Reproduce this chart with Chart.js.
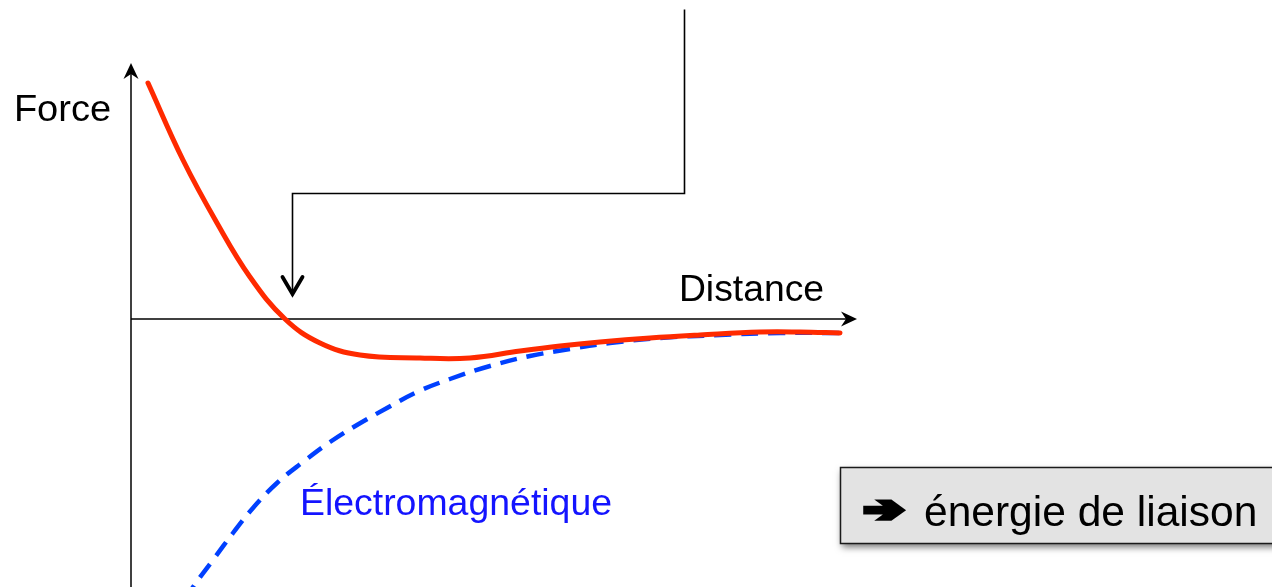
<!DOCTYPE html>
<html lang="fr">
<head>
    <meta charset="UTF-8">
    <title>Force - Distance</title>
    <script src="https://cdn.jsdelivr.net/npm/chart.js@4"></script>
    <style>
        html, body { margin: 0; padding: 0; background: #fff; overflow: hidden; }
        canvas { display: block; }
    </style>
</head>
<body>
    <canvas id="forceChart" width="1272" height="587"></canvas>

    <script>
        // courbe totale (rouge) : distance / force
        const totalDistance = [0.17, 0.52, 0.86, 1.19, 1.54, 1.89, 2.29, 2.89, 3.39, 3.89, 4.29, 4.69, 5.19, 5.69, 6.29, 6.69, 7.09];
        const totalForce    = [2.36, 1.59, 0.96, 0.42, 0.00, -0.24, -0.36, -0.39, -0.39, -0.32, -0.27, -0.23, -0.19, -0.16, -0.13, -0.13, -0.14];

        // composante électromagnétique (tirets bleus)
        const emDistance = [0.54, 0.62, 0.82, 1.02, 1.22, 1.46, 1.72, 1.99, 2.26, 2.56, 2.86, 3.19, 3.59, 3.99, 4.39, 4.79, 5.29, 5.89, 6.49, 7.14];
        const emForce    = [-2.81, -2.68, -2.41, -2.14, -1.89, -1.64, -1.43, -1.23, -1.06, -0.89, -0.73, -0.60, -0.47, -0.37, -0.30, -0.24, -0.19, -0.16, -0.14, -0.14];

        // bornes des axes et flèche de renvoi (unités du graphe)
        const xAxisEnd = 7.26;
        const yAxisEnd = 2.56;
        const pointerPath = [[5.53, 3.10], [5.53, 1.26], [1.61, 1.26], [1.61, 0.24]];

        const labels = {
            force: 'Force',
            distance: 'Distance',
            em: 'Électromagnétique',
            box: 'énergie de liaison',
            boxArrow: '➔'
        };

        const toPoints = (xs, ys) => xs.map((x, i) => ({ x: x, y: ys[i] }));

        // texte étiré pour tenir entre deux bords d'encre
        function fitText(ctx, text, left, right, baseline, font, color, bold) {
            ctx.save();
            ctx.font = font;
            ctx.fillStyle = color;
            ctx.strokeStyle = color;
            ctx.textBaseline = 'alphabetic';
            ctx.textAlign = 'left';
            const extra = bold || 0;
            const m = ctx.measureText(text);
            const ink = m.actualBoundingBoxLeft + m.actualBoundingBoxRight + extra;
            const sx = (right - left) / ink;
            ctx.translate(left + (m.actualBoundingBoxLeft + extra / 2) * sx, baseline);
            ctx.scale(sx, 1);
            ctx.fillText(text, 0, 0);
            if (extra) {
                ctx.lineWidth = extra;
                ctx.lineJoin = 'miter';
                ctx.strokeText(text, 0, 0);
            }
            ctx.restore();
        }

        function arrowHead(ctx, tipX, tipY, dir, len, half, notch) {
            // dir: 'right' ou 'up'
            ctx.beginPath();
            if (dir === 'right') {
                ctx.moveTo(tipX, tipY);
                ctx.lineTo(tipX - len, tipY - half);
                ctx.lineTo(tipX - len + notch, tipY);
                ctx.lineTo(tipX - len, tipY + half);
            } else {
                ctx.moveTo(tipX, tipY);
                ctx.lineTo(tipX - half, tipY + len);
                ctx.lineTo(tipX, tipY + len - notch);
                ctx.lineTo(tipX + half, tipY + len);
            }
            ctx.closePath();
            ctx.fill();
        }

        const axesPlugin = {
            id: 'axesPlugin',
            beforeDatasetsDraw(chart) {
                const { ctx, scales: { x, y } } = chart;
                const x0 = x.getPixelForValue(0);
                const y0 = y.getPixelForValue(0);
                const xEnd = x.getPixelForValue(xAxisEnd);
                const yTop = y.getPixelForValue(yAxisEnd);

                ctx.save();
                ctx.strokeStyle = '#000';
                ctx.fillStyle = '#000';
                ctx.lineWidth = 1.5;

                // axe vertical
                ctx.beginPath();
                ctx.moveTo(x0, chart.height);
                ctx.lineTo(x0, yTop + 4);
                ctx.stroke();
                arrowHead(ctx, x0, yTop, 'up', 16, 7.5, 5);

                // axe horizontal
                ctx.beginPath();
                ctx.moveTo(x0, y0);
                ctx.lineTo(xEnd - 4, y0);
                ctx.stroke();
                arrowHead(ctx, xEnd, y0, 'right', 16, 7.5, 5);

                // flèche de renvoi
                ctx.lineWidth = 1.6;
                ctx.beginPath();
                pointerPath.forEach((p, i) => {
                    const px = Math.round(x.getPixelForValue(p[0])) + 0.5;
                    const py = Math.round(y.getPixelForValue(p[1])) + 0.5;
                    if (i === 0) ctx.moveTo(px, py); else ctx.lineTo(px, py);
                });
                ctx.stroke();
                const last = pointerPath[pointerPath.length - 1];
                const tx = Math.round(x.getPixelForValue(last[0])) + 0.5;
                const ty = y.getPixelForValue(last[1]);
                ctx.lineWidth = 3.8;
                ctx.lineCap = 'round';
                ctx.lineJoin = 'miter';
                ctx.beginPath();
                ctx.moveTo(tx - 10, ty - 18);
                ctx.lineTo(tx, ty - 1);
                ctx.lineTo(tx + 10, ty - 18);
                ctx.stroke();
                ctx.restore();
            },
            afterDraw(chart) {
                const ctx = chart.ctx;
                const font = '36px "Liberation Sans", Arial, sans-serif';

                fitText(ctx, labels.force, 16, 110, 121, font, '#000');
                fitText(ctx, labels.distance, 681, 823, 301, font, '#000');
                fitText(ctx, labels.em, 302, 611, 515, font, '#1414ff');

                // encadré « énergie de liaison »
                ctx.save();
                ctx.shadowColor = 'rgba(0, 0, 0, 0.55)';
                ctx.shadowBlur = 7;
                ctx.shadowOffsetX = 2;
                ctx.shadowOffsetY = 4;
                ctx.fillStyle = '#e3e3e3';
                ctx.fillRect(840, 467, 450, 76);
                ctx.restore();
                ctx.save();
                ctx.strokeStyle = '#1a1a1a';
                ctx.lineWidth = 1.5;
                ctx.strokeRect(840.5, 467.5, 450, 76);
                ctx.restore();

                fitText(ctx, labels.boxArrow, 862, 905, 521, 'bold 34px "DejaVu Sans", sans-serif', '#000', 5);
                fitText(ctx, labels.box, 925, 1255, 526, '42px "Liberation Sans", Arial, sans-serif', '#000');
            }
        };

        const ctx = document.getElementById('forceChart').getContext('2d');
        const chart = new Chart(ctx, {
            type: 'scatter',
            data: {
                datasets: [
                    {
                        label: 'Force totale',
                        data: toPoints(totalDistance, totalForce),
                        showLine: true,
                        borderColor: '#ff2a00',
                        borderWidth: 5,
                        borderCapStyle: 'round',
                        pointRadius: 0,
                        tension: 0.4,
                        order: 0
                    },
                    {
                        label: 'Électromagnétique',
                        data: toPoints(emDistance, emForce),
                        showLine: true,
                        borderColor: '#0040ff',
                        borderWidth: 4.5,
                        borderDash: [17, 10],
                        pointRadius: 0,
                        tension: 0.4,
                        order: 1
                    }
                ]
            },
            options: {
                responsive: false,
                animation: false,
                layout: { padding: 0 },
                plugins: {
                    legend: { display: false },
                    tooltip: { enabled: false }
                },
                scales: {
                    x: { type: 'linear', display: false, min: -1.31, max: 11.41 },
                    y: { type: 'linear', display: false, min: -2.68, max: 3.19 }
                }
            },
            plugins: [axesPlugin]
        });
    </script>
</body>
</html>
